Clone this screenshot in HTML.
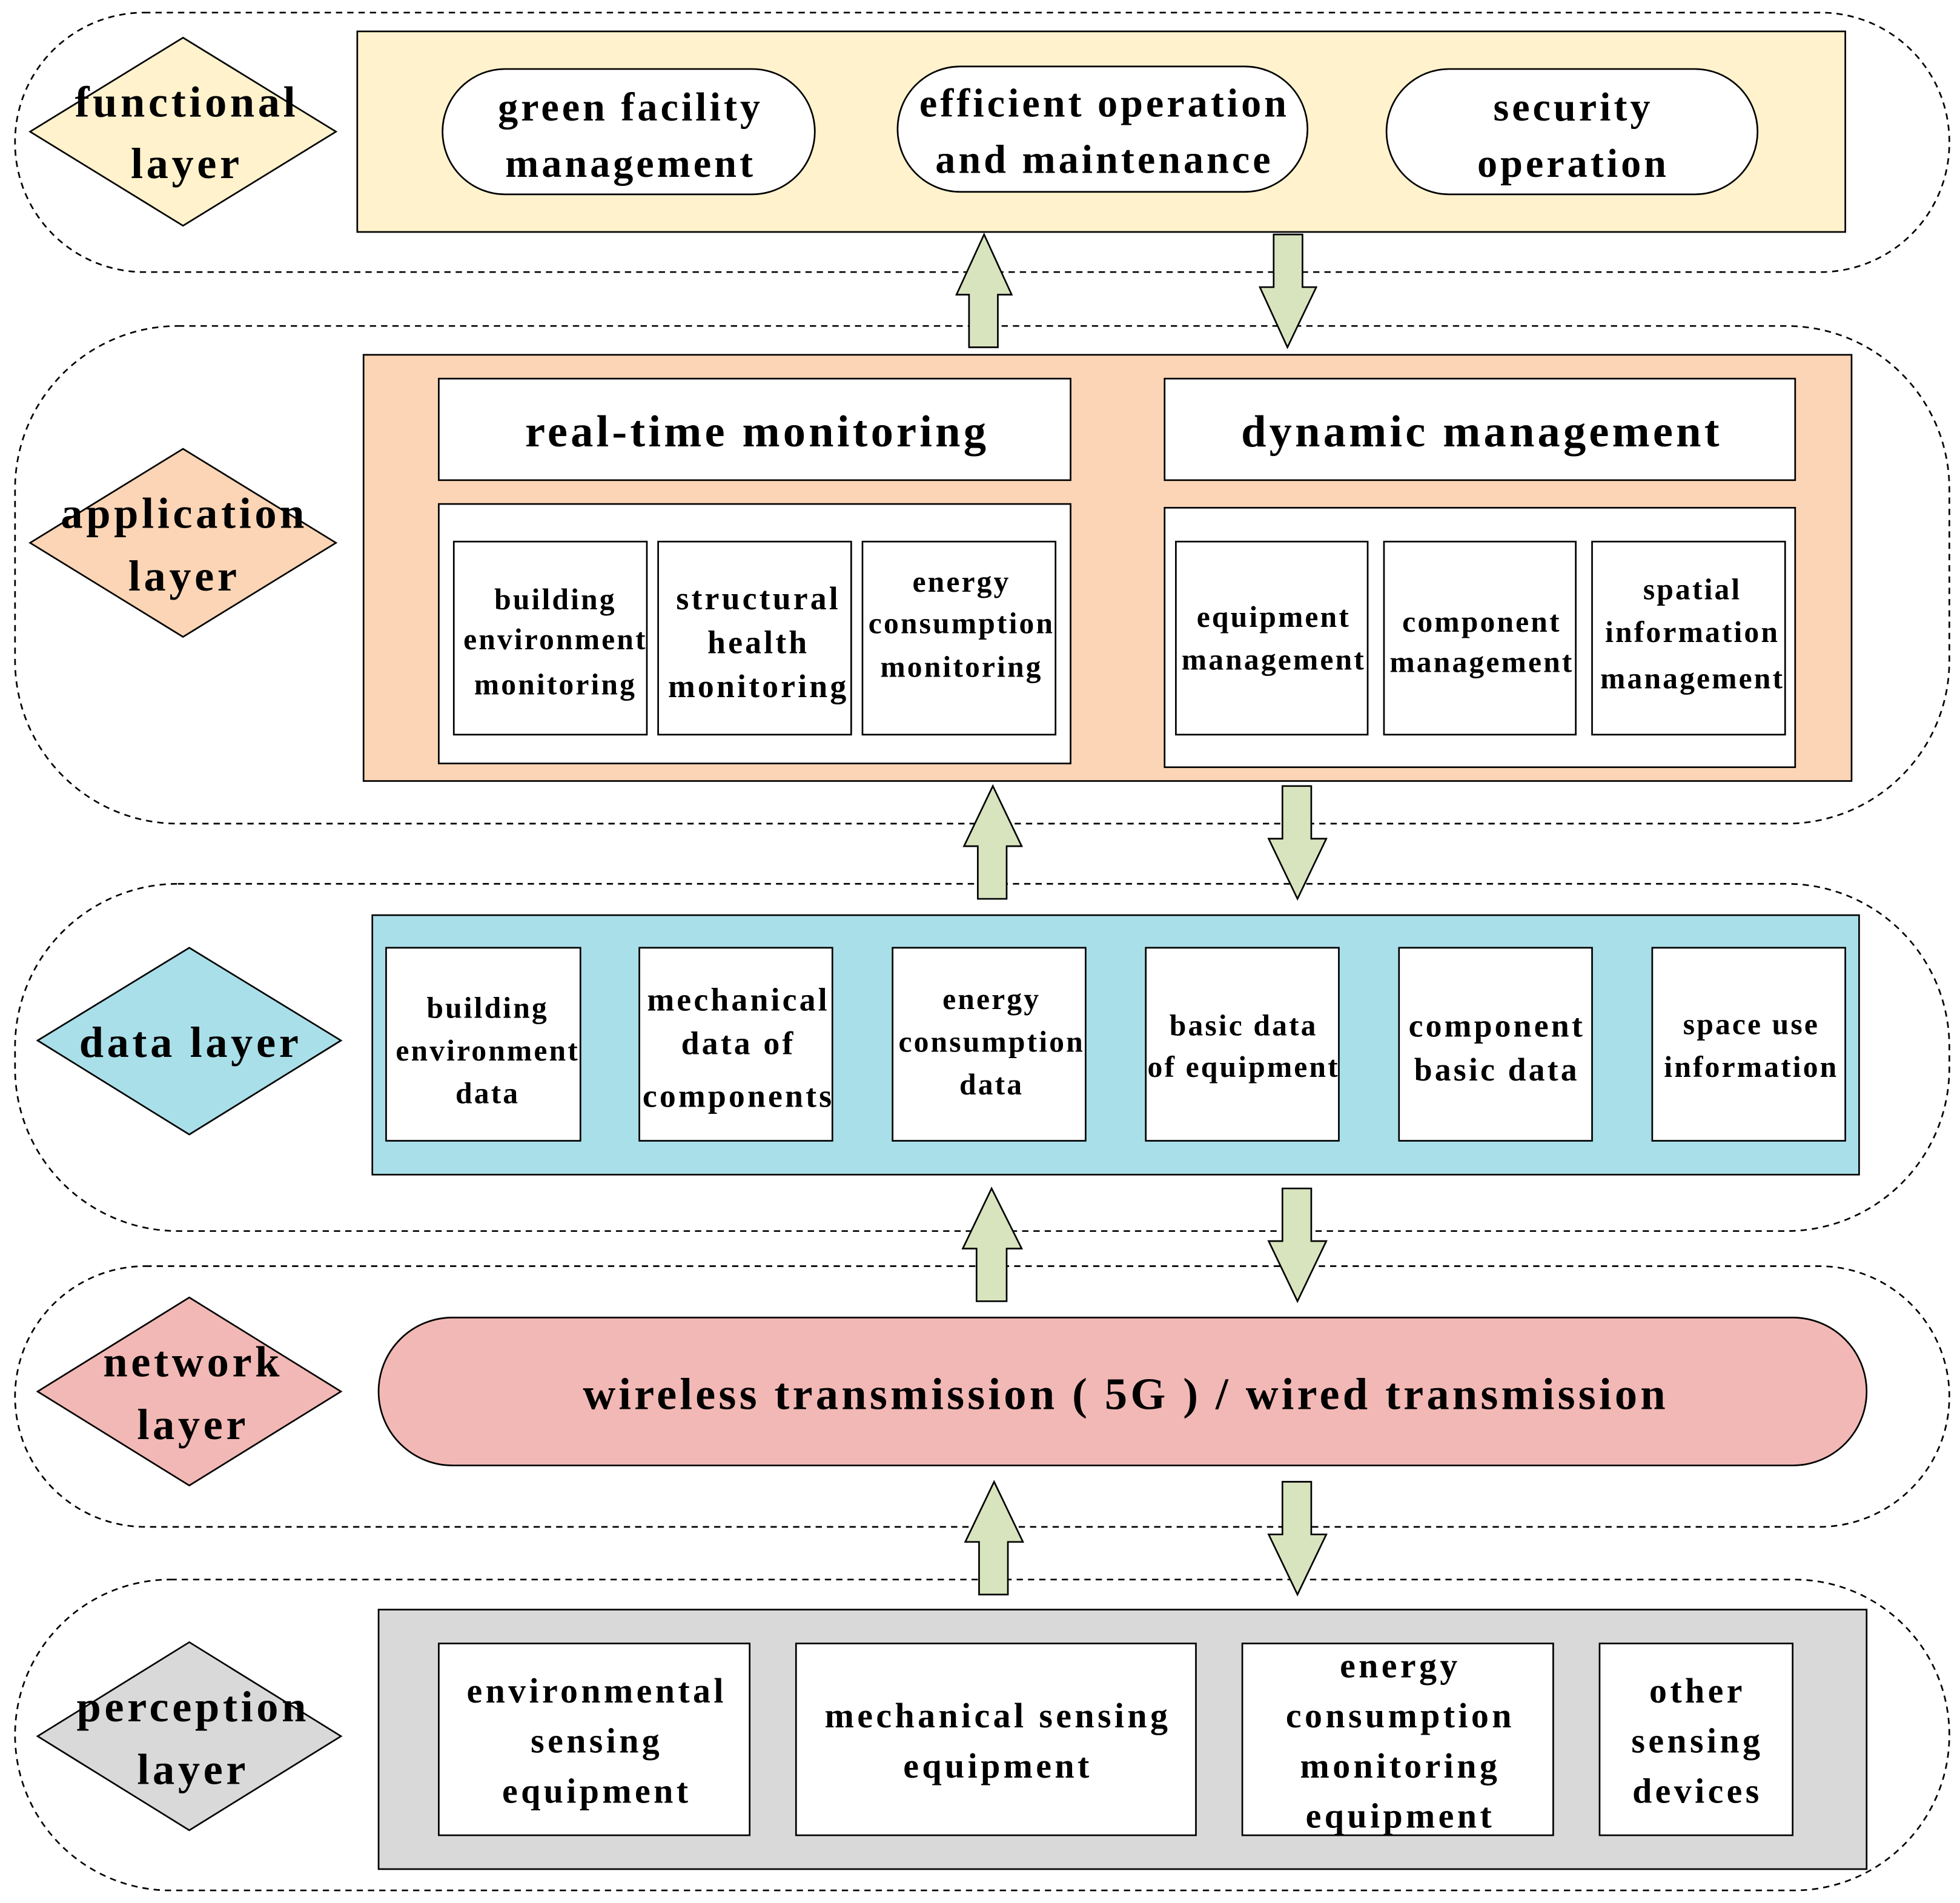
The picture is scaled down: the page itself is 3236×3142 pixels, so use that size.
<!DOCTYPE html>
<html><head><meta charset="utf-8"><style>
html,body{margin:0;padding:0;background:#fff;}
svg{display:block;}
text{font-family:"Liberation Serif",serif;font-weight:bold;fill:#000;text-anchor:middle;}
</style></head><body>
<svg width="3236" height="3142" viewBox="0 0 1563.5 1518" xmlns="http://www.w3.org/2000/svg">
<g fill="none" stroke="#000" stroke-width="1.3" stroke-dasharray="5,4">
<rect x="12" y="10" width="1543" height="207" rx="103"/>
<rect x="12" y="260" width="1543" height="397" rx="130"/>
<rect x="12" y="705" width="1543" height="277" rx="130"/>
<rect x="12" y="1010" width="1543" height="208" rx="104"/>
<rect x="12" y="1260" width="1543" height="248" rx="124"/>
</g>
<g stroke="#000" stroke-width="1.3">
<polygon points="24,105 146,30 268,105 146,180" fill="#FFF2CC"/>
<polygon points="24,433 146,358 268,433 146,508" fill="#FBD5B5"/>
<polygon points="30,830 151,756 272,830 151,905" fill="#A9DFE9"/>
<polygon points="30,1110 151,1035 272,1110 151,1185" fill="#F2B8B5"/>
<polygon points="30,1385 151,1310 272,1385 151,1460" fill="#D9D9D9"/>
<rect x="285" y="25" width="1187" height="160" fill="#FFF2CC"/>
<rect x="353" y="55" width="297" height="100" rx="50" fill="#fff"/>
<rect x="716" y="53" width="327" height="100" rx="50" fill="#fff"/>
<rect x="1106" y="55" width="296" height="100" rx="50" fill="#fff"/>
<rect x="290" y="283" width="1187" height="340" fill="#FBD5B5"/>
<rect x="350" y="302" width="504" height="81" fill="#fff"/>
<rect x="929" y="302" width="503" height="81" fill="#fff"/>
<rect x="350" y="402" width="504" height="207" fill="#fff"/>
<rect x="929" y="405" width="503" height="207" fill="#fff"/>
<rect x="362" y="432" width="154" height="154" fill="#fff"/>
<rect x="525" y="432" width="154" height="154" fill="#fff"/>
<rect x="688" y="432" width="154" height="154" fill="#fff"/>
<rect x="938" y="432" width="153" height="154" fill="#fff"/>
<rect x="1104" y="432" width="153" height="154" fill="#fff"/>
<rect x="1270" y="432" width="154" height="154" fill="#fff"/>
<rect x="297" y="730" width="1186" height="207" fill="#A9DFE9"/>
<rect x="308" y="756" width="155" height="154" fill="#fff"/>
<rect x="510" y="756" width="154" height="154" fill="#fff"/>
<rect x="712" y="756" width="154" height="154" fill="#fff"/>
<rect x="914" y="756" width="154" height="154" fill="#fff"/>
<rect x="1116" y="756" width="154" height="154" fill="#fff"/>
<rect x="1318" y="756" width="154" height="154" fill="#fff"/>
<rect x="302" y="1051" width="1187" height="118" rx="59" fill="#F2B8B5"/>
<rect x="302" y="1284" width="1187" height="207" fill="#D9D9D9"/>
<rect x="350" y="1311" width="248" height="153" fill="#fff"/>
<rect x="635" y="1311" width="319" height="153" fill="#fff"/>
<rect x="991" y="1311" width="248" height="153" fill="#fff"/>
<rect x="1276" y="1311" width="154" height="153" fill="#fff"/>
</g>
<g fill="#D7E4BD" stroke="#000" stroke-width="1.3">
<polygon points="785,187 807,235 796,235 796,277 773,277 773,235 763,235"/>
<polygon points="1027,277 1050,229 1039,229 1039,187 1016,187 1016,229 1005,229"/>
<polygon points="792,627 815,675 803,675 803,717 780,717 780,675 769,675"/>
<polygon points="1035,717 1058,669 1046,669 1046,627 1023,627 1023,669 1012,669"/>
<polygon points="791,948 815,996 803,996 803,1038 779,1038 779,996 768,996"/>
<polygon points="1035,1038 1058,990 1046,990 1046,948 1023,948 1023,990 1012,990"/>
<polygon points="793,1182 816,1230 804,1230 804,1272 781,1272 781,1230 770,1230"/>
<polygon points="1035,1272 1058,1224 1046,1224 1046,1182 1023,1182 1023,1224 1012,1224"/>
</g>
<g font-size="35" letter-spacing="2.7">
<text x="149" y="93">functional</text><text x="149" y="142">layer</text>
<text x="147" y="421">application</text><text x="147" y="471">layer</text>
<text x="152" y="843">data layer</text>
<text x="154" y="1098">network</text><text x="154" y="1148">layer</text>
<text x="154" y="1373">perception</text><text x="154" y="1423">layer</text>
</g>
<g font-size="32" letter-spacing="2.4">
<text x="503" y="96">green  facility</text><text x="503" y="141">management</text>
<text x="881" y="93">efficient operation</text><text x="881" y="138">and maintenance</text>
<text x="1255" y="96">security</text><text x="1255" y="141">operation</text>
</g>
<g font-size="36" letter-spacing="2.5">
<text x="604" y="356">real-time monitoring</text>
<text x="1182" y="356">dynamic management</text>
<text x="898" y="1124">wireless transmission ( 5G ) / wired transmission</text>
</g>
<g font-size="24" letter-spacing="1.5">
<text x="443" y="486">building</text><text x="443" y="518">environment</text><text x="443" y="554">monitoring</text>
<text x="605" y="486" font-size="26" letter-spacing="2">structural</text><text x="605" y="521" font-size="26" letter-spacing="2">health</text><text x="605" y="556" font-size="26" letter-spacing="2">monitoring</text>
<text x="767" y="472">energy</text><text x="767" y="505">consumption</text><text x="767" y="540">monitoring</text>
<text x="1016" y="500">equipment</text><text x="1016" y="534">management</text>
<text x="1182" y="504">component</text><text x="1182" y="536">management</text>
<text x="1350" y="478">spatial</text><text x="1350" y="512">information</text><text x="1350" y="549">management</text>
<text x="389" y="812">building</text><text x="389" y="846">environment</text><text x="389" y="880">data</text>
<text x="589" y="806" font-size="26" letter-spacing="2">mechanical</text><text x="589" y="841" font-size="26" letter-spacing="2">data of</text><text x="589" y="883" font-size="26" letter-spacing="2">components</text>
<text x="791" y="805">energy</text><text x="791" y="839">consumption</text><text x="791" y="873">data</text>
<text x="992" y="826">basic data</text><text x="992" y="859">of equipment</text>
<text x="1194" y="827" font-size="26" letter-spacing="2">component</text><text x="1194" y="862" font-size="26" letter-spacing="2">basic data</text>
<text x="1397" y="825">space use</text><text x="1397" y="859">information</text>
</g>
<g font-size="28" letter-spacing="2.6">
<text x="476" y="1358">environmental</text><text x="476" y="1398">sensing</text><text x="476" y="1438">equipment</text>
<text x="796" y="1378">mechanical sensing</text><text x="796" y="1418">equipment</text>
<text x="1117" y="1338">energy</text><text x="1117" y="1378">consumption</text><text x="1117" y="1418">monitoring</text><text x="1117" y="1458">equipment</text>
<text x="1354" y="1358">other</text><text x="1354" y="1398">sensing</text><text x="1354" y="1438">devices</text>
</g>
</svg>
</body></html>
